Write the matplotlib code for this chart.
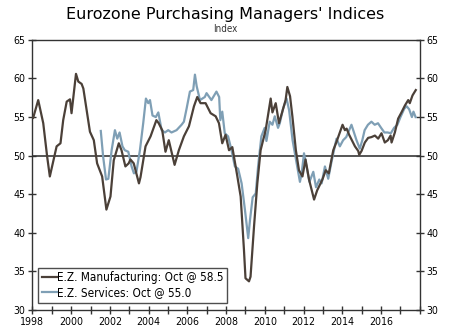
import matplotlib
matplotlib.use('Agg')
import matplotlib.pyplot as plt
from matplotlib.ticker import MultipleLocator

# values (decimal year, index)
mfg_t = [1998.04, 1998.3, 1998.56, 1998.76, 1998.9, 1999.25, 1999.45, 1999.59, 1999.77, 1999.94,
         2000.02, 2000.25, 2000.37, 2000.54, 2000.63, 2000.97, 2001.17, 2001.34, 2001.6, 2001.82,
         2002.03, 2002.2, 2002.46, 2002.6, 2002.8, 2002.97, 2003.06, 2003.23, 2003.5, 2003.58,
         2003.84, 2004.1, 2004.4, 2004.52, 2004.7, 2004.87, 2005.04, 2005.34, 2005.56, 2005.82,
         2006.08, 2006.34, 2006.51, 2006.68, 2006.94, 2007.2, 2007.46, 2007.63, 2007.8, 2007.97,
         2008.15, 2008.32, 2008.58, 2008.75, 2008.92, 2009.0, 2009.18, 2009.26, 2009.44, 2009.61,
         2009.78, 2010.04, 2010.3, 2010.39, 2010.56, 2010.73, 2010.9, 2011.07, 2011.16, 2011.3,
         2011.42, 2011.6, 2011.76, 2011.94, 2012.1, 2012.28, 2012.54, 2012.7, 2012.97, 2013.14,
         2013.3, 2013.53, 2013.7, 2014.01, 2014.13, 2014.22, 2014.35, 2014.65, 2014.82, 2014.87,
         2014.99, 2015.16, 2015.33, 2015.5, 2015.68, 2015.85, 2016.02, 2016.19, 2016.35, 2016.49,
         2016.54, 2016.71, 2016.88, 2017.05, 2017.23, 2017.4, 2017.48, 2017.62, 2017.79]
mfg_v = [54.9, 57.2, 54.2, 49.9, 47.3, 51.2, 51.6, 54.6, 57.0, 57.3,
         55.5, 60.6, 59.6, 59.3, 58.7, 53.1, 52.0, 49.0, 47.3, 43.0,
         44.7, 49.4, 51.6, 50.7, 48.6, 49.0, 49.5, 49.0, 46.4, 47.2,
         51.2, 52.5, 54.6, 54.2, 53.3, 50.5, 52.0, 48.8, 50.7, 52.5,
         53.8, 56.4, 57.6, 56.8, 56.8, 55.5, 55.1, 54.2, 51.6, 52.7,
         50.7, 51.1, 47.3, 44.7, 37.8, 34.1, 33.7, 34.3, 40.8, 46.4,
         50.7, 53.3, 57.4, 55.6, 56.8, 54.2, 55.7, 57.2, 58.9, 57.7,
         55.1, 50.7, 48.1, 47.3, 49.5, 46.9, 44.3, 45.5, 46.9, 48.1,
         47.7, 50.7, 51.8, 54.0, 53.3, 53.5, 52.7, 51.2, 50.6, 50.1,
         50.6, 51.7, 52.3, 52.4, 52.6, 52.2, 52.9, 51.7, 52.0, 52.6,
         51.7, 53.0, 54.8, 55.6, 56.5, 57.2, 56.8, 57.8, 58.5]

svc_t = [2001.53, 2001.65, 2001.8, 2001.92, 2002.09, 2002.26, 2002.38, 2002.5, 2002.65, 2002.77,
         2002.95, 2003.12, 2003.24, 2003.37, 2003.55, 2003.72, 2003.86, 2003.98, 2004.07, 2004.2,
         2004.37, 2004.5, 2004.67, 2004.84, 2005.01, 2005.18, 2005.44, 2005.7, 2005.82, 2005.96,
         2006.13, 2006.3, 2006.39, 2006.48, 2006.65, 2006.9, 2006.99, 2007.24, 2007.5, 2007.64,
         2007.7, 2007.8, 2007.93, 2008.1, 2008.28, 2008.45, 2008.62, 2008.8, 2008.97, 2009.14,
         2009.23, 2009.37, 2009.53, 2009.65, 2009.82, 2009.99, 2010.08, 2010.25, 2010.39, 2010.51,
         2010.68, 2010.77, 2010.94, 2011.12, 2011.25, 2011.43, 2011.64, 2011.81, 2011.9, 2012.02,
         2012.15, 2012.3, 2012.5, 2012.64, 2012.81, 2012.93, 2013.1, 2013.27, 2013.44, 2013.61,
         2013.7, 2013.87, 2014.04, 2014.2, 2014.47, 2014.6, 2014.73, 2014.9, 2015.03, 2015.15,
         2015.32, 2015.5, 2015.67, 2015.84, 2016.0, 2016.17, 2016.34, 2016.5, 2016.67, 2016.84,
         2017.0, 2017.2, 2017.32, 2017.45, 2017.59, 2017.67, 2017.78]
svc_v = [53.2, 49.9, 46.9, 47.0, 50.7, 53.3, 52.2, 53.0, 51.2, 50.7,
         50.5, 48.6, 47.7, 47.9, 50.7, 54.2, 57.4, 56.8, 57.2, 55.2,
         55.0, 55.6, 53.3, 53.0, 53.3, 53.0, 53.3, 54.0, 54.4, 56.1,
         58.3, 58.5, 60.5, 59.0, 57.2, 57.6, 58.1, 57.2, 58.3, 57.6,
         54.6, 55.7, 52.9, 52.5, 50.7, 48.6, 48.3, 46.4, 43.0, 39.3,
         41.6, 44.6, 45.1, 48.6, 52.5, 53.6, 51.9, 54.4, 54.0, 55.1,
         53.6, 54.2, 56.1, 57.4, 55.9, 52.0, 49.0, 46.6, 47.7, 50.3,
         48.6, 46.6, 47.9, 45.9, 46.9, 46.4, 48.6, 47.0, 49.2, 51.2,
         52.2, 51.2, 52.0, 52.4, 54.0, 53.0, 52.0, 50.9, 52.0, 53.3,
         54.0, 54.4, 54.0, 54.2, 53.6, 53.0, 53.0, 52.9, 53.6, 54.0,
         55.0, 56.1, 56.4, 56.0, 55.0, 55.7, 55.0]

mfg_label = 'E.Z. Manufacturing: Oct @ 58.5'
svc_label = 'E.Z. Services: Oct @ 55.0'

plt.rcParams['font.family'] = 'DejaVu Sans'
plt.rcParams['font.stretch'] = 'condensed'
fig = plt.figure(figsize=(4.5, 3.3), dpi=100)
ax = fig.add_axes([0.072, 0.061, 0.861, 0.818])

ax.axhline(50, color='#555555', lw=1.4, zorder=1)
ax.plot(mfg_t, mfg_v, color='#4b4038', lw=1.6, label=mfg_label, zorder=3)
ax.plot(svc_t, svc_v, color='#7f9fb5', lw=1.6, label=svc_label, zorder=2)

ax.set_xlim(1998, 2018)
ax.set_ylim(30, 65)
ax.xaxis.set_minor_locator(MultipleLocator(1))
ax.yaxis.set_major_locator(MultipleLocator(5))
ax.set_xticks(range(1998, 2017, 2))
ax.tick_params(axis='both', which='both', direction='inout', length=6, width=1,
               labelsize=7.6, color='#333333', pad=2)
ax.tick_params(axis='y', right=True, labelright=True)
for s in ax.spines.values():
    s.set_color('#333333')
    s.set_linewidth(1)

leg = ax.legend(loc='lower left', fontsize=8.4, frameon=True, fancybox=False,
                handlelength=1.3, handletextpad=0.05, borderpad=0.3,
                labelspacing=0.2, borderaxespad=0,
                bbox_to_anchor=(0.015, 0.026))
leg.get_frame().set_edgecolor('#222222')
leg.get_frame().set_linewidth(1)

fig.text(0.5, 0.957, "Eurozone Purchasing Managers' Indices", ha='center', va='center',
         fontsize=11.5, fontstretch='normal')
fig.text(0.5, 0.911, 'Index', ha='center', va='center', fontsize=7, color='#333333')

fig.savefig('out.png', dpi=100)
